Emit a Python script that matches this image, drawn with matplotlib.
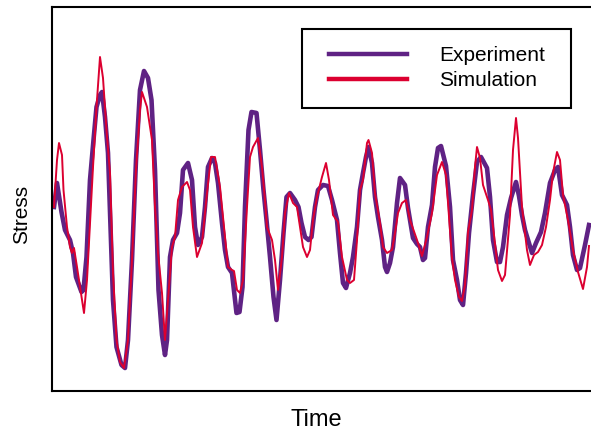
import matplotlib.pyplot as plt
from matplotlib.patches import Rectangle

plt.rcParams['font.family'] = ['Liberation Sans', 'DejaVu Sans']

# (time, stress), arbitrary units
experiment = [
    (2, -7), (5, 17), (9.5, -12), (13, -30), (18, -40), (21, -53), (24, -77),
    (29.5, -92), (31.5, -90), (34.5, -57), (38, 20), (41.5, 60), (44.5, 93),
    (48, 105), (50, 108), (53, 83), (56, 47), (58, -13), (61, -100), (64.5, -147),
    (69.5, -165), (73, -168), (76, -140), (80, -60), (84, 40), (88, 110), (92, 129),
    (96, 122), (99.5, 100), (103, 30), (106.5, -90), (110, -135), (113, -155),
    (115, -140), (118, -57), (121, -40), (125, -33), (128, -13), (131, 30),
    (136, 37), (140, 20), (143, -27), (146, -45), (150, -37), (153, -7), (156, 33),
    (160, 42), (163, 37), (166, 17), (170, -23), (173, -50), (176, -67), (180, -73),
    (184.5, -113), (187.5, -112), (190.5, -87), (193, -7), (196.5, 70), (199.5, 88),
    (204.5, 87), (208, 50), (211.5, 10), (214.5, -20), (218, -57), (221.5, -97),
    (224.5, -120), (228, -80), (231.5, -33), (234.5, 3), (238, 7), (243, 0),
    (246.5, -7), (249.5, -23), (253, -37), (256.5, -40), (259.5, -37), (263, -7),
    (266, 10), (271, 15), (276, 14), (280, 0), (285, -20), (288, -53), (291, -83),
    (294, -88), (298, -73), (301, -57), (305, -27), (308, 10), (311, 27), (314, 43),
    (316.5, 53), (320, 37), (323, 3), (326, -17), (330, -40), (333, -67), (335, -72),
    (338, -63), (341, -47), (345, -3), (348, 22), (353, 15), (356, -8), (361, -38),
    (365, -44), (368, -47), (371, -60), (373, -58), (376, -27), (380, -5), (383, 33),
    (386, 52), (389, 54), (394, 34), (398, -7), (401, -60), (405, -80), (408, -100),
    (411, -105), (414, -73), (417, -33), (421, 5), (425, 38), (429, 43), (435, 32),
    (438, 3), (441, -40), (445, -62), (448, -62), (451, -47), (455, -15), (459, 2),
    (464, 18), (467, 4), (470, -15), (473, -30), (476, -40), (480, -53), (484, -43),
    (489, -32), (493, -13), (498, 17), (503, 30), (506, 33), (510, 5), (515, -5),
    (518, -27), (521, -55), (525, -70), (528, -68), (533, -45), (537, -25),
]

simulation = [
    (2, -7), (5, 40), (7, 57), (10, 45), (11.5, 10), (15, -27), (18, -47), (20, -53),
    (22, -48), (25, -67), (30, -100), (32, -113), (35, -80), (38, -23), (41, 33),
    (44.5, 93), (48, 143), (51, 122), (54.5, 70), (58, 27), (61, -73), (64.5, -140),
    (68, -162), (72, -168), (76, -140), (80, -60), (84, 30), (88, 90), (90, 108),
    (95, 93), (100, 60), (103, -7), (106, -53), (110, -93), (113, -140), (116, -100),
    (120, -47), (123, -37), (126, 0), (130, 13), (135, 18), (138, 10), (141, -27),
    (145, -57), (150, -43), (155, 7), (159, 43), (163, 43), (168, 13), (173, -37),
    (176, -67), (180, -70), (182, -71), (185, -90), (188, -93), (191, -80), (195, -7),
    (198, 43), (201, 53), (206, 62), (210, 33), (213, 0), (215, -27), (220, -40),
    (223, -60), (226, -90), (230, -57), (233, -13), (237, 7), (241, -3), (245, -7),
    (248, -27), (251, -47), (255, -57), (258, -50), (261, -20), (265, 3), (270, 23),
    (274, 37), (277, 20), (281, -15), (286, -22), (290, -57), (295, -80), (298, -83),
    (302, -80), (305, -40), (308, 10), (311, 20), (315, 57), (316.5, 60), (320, 47),
    (323, 7), (328, -23), (331, -47), (335, -53), (340, -50), (343, -33), (346, -13),
    (350, -3), (354, 0), (358, -20), (365, -40), (370, -56), (375, -37), (380, -13),
    (385, 25), (390, 38), (394, 25), (397, -17), (400, -58), (403, -80), (407, -97),
    (410, -101), (413, -85), (416, -32), (420, -10), (423, 33), (425, 53), (428, 42),
    (431, 15), (436, 0), (439, -10), (442, -35), (446, -70), (450, -81), (453, -75),
    (458, -15), (461, 50), (464, 82), (466, 62), (470, -7), (475, -50), (478, -65),
    (482, -55), (486, -52), (490, -45), (494, -27), (498, 0), (501, 27), (505, 48),
    (508, 40), (511, 5), (516, -20), (521, -50), (526, -72), (531, -89), (535, -67),
    (537, -46),
]

labels = ['Experiment', 'Simulation']
purple = '#5f2284'
red = '#dc0030'

fig = plt.figure(figsize=(5.91, 4.33), dpi=100)
ax = fig.add_axes([52 / 591, 42 / 433, 539 / 591, 384 / 433])

t, s = zip(*experiment)
ax.plot(t, s, color=purple, lw=3.3, label=labels[0])
t, s = zip(*simulation)
ax.plot(t, s, color=red, lw=1.4, label=labels[1])

ax.set_xlim(0, 539)
ax.set_ylim(-191, 193)
ax.set_xticks([])
ax.set_yticks([])
ax.spines['right'].set_visible(False)
for side in ['left', 'top', 'bottom']:
    ax.spines[side].set_linewidth(1.5)

ax.set_xlabel('Time', fontsize=17)
ax.xaxis.label.set_va('center')
ax.xaxis.set_label_coords(0.49, -0.0755)
ax.set_ylabel('Stress', fontsize=15)
ax.yaxis.label.set_va('center')
ax.yaxis.set_label_coords(-0.056, 0.461)

leg = ax.legend(loc='center left', bbox_to_anchor=((329 - 52) / 539, (391 - 68) / 384),
                frameon=False, borderpad=0, borderaxespad=0, fontsize=15,
                handlelength=3.75, handletextpad=1.55, labelspacing=0.3)
for h in leg.get_lines():
    h.set_linewidth(3.2)

# legend box
ax.add_patch(Rectangle(((302 - 52) / 539, (391 - 108) / 384), 269 / 539, 79 / 384,
                       transform=ax.transAxes, fill=False, ec='black', lw=1.5,
                       zorder=5))

fig.savefig('out.png', dpi=100)
